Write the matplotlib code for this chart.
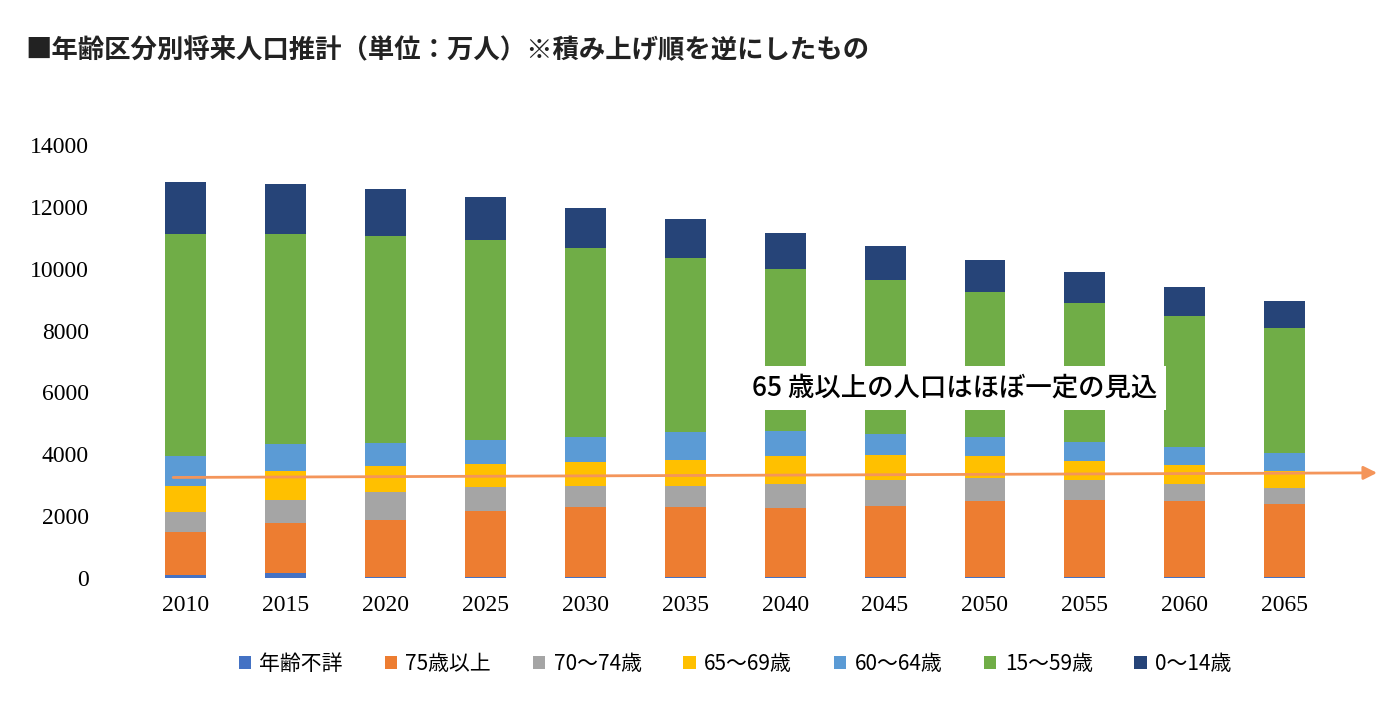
import matplotlib.pyplot as plt
import numpy as np

plt.rcParams['font.family'] = ['Noto Sans CJK JP', 'DejaVu Sans']

years = ['2010', '2015', '2020', '2025', '2030', '2035', '2040', '2045', '2050', '2055', '2060', '2065']
# cumulative tops (bottom -> top)
top_unknown = [80, 150, 40, 40, 40, 40, 40, 40, 40, 40, 40, 40]
top_75 = [1490, 1780, 1875, 2165, 2295, 2295, 2265, 2330, 2490, 2520, 2490, 2395]
top_70 = [2135, 2520, 2780, 2940, 2975, 2975, 3040, 3170, 3235, 3170, 3040, 2910]
top_65 = [2975, 3460, 3620, 3685, 3750, 3815, 3945, 3975, 3945, 3785, 3655, 3460]
top_60 = [3945, 4330, 4365, 4460, 4560, 4720, 4755, 4655, 4560, 4395, 4235, 4040]
top_15 = [11120, 11120, 11055, 10930, 10670, 10345, 9990, 9635, 9245, 8890, 8470, 8085]
top_0 = [12805, 12740, 12575, 12320, 11965, 11605, 11155, 10735, 10280, 9895, 9410, 8955]

labels = ['年齢不詳', '75歳以上', '70～74歳', '65～69歳', '60～64歳', '15～59歳', '0～14歳']
colors = ['#4472C4', '#ED7D31', '#A5A5A5', '#FFC000', '#5B9BD5', '#70AD47', '#264478']
tops = [top_unknown, top_75, top_70, top_65, top_60, top_15, top_0]

fig = plt.figure(figsize=(13.87, 7.24), dpi=100)
fig.patch.set_facecolor('white')
ax = fig.add_axes([0.094, 0.2017, 0.872, 0.598])

x = np.arange(len(years))
prev = np.zeros(len(years))
for lab, col, t in zip(labels, colors, tops):
    t = np.array(t, dtype=float)
    ax.bar(x, t - prev, bottom=prev, width=0.41, color=col, label=lab)
    prev = t

ax.set_ylim(0, 14000)
ax.set_xlim(-0.55, len(years) - 0.45)
ax.set_yticks(range(0, 14001, 2000))
ax.set_xticks(x)
ax.set_xticklabels(years)
for lbl in ax.get_xticklabels() + ax.get_yticklabels():
    lbl.set_fontfamily('Liberation Serif')
    lbl.set_fontsize(17)
ax.tick_params(length=0, pad=12)
ax.tick_params(axis='y', pad=30)
for s in ax.spines.values():
    s.set_visible(False)

# trend arrow
ax.annotate('', xy=(11.95, 3400), xytext=(-0.15, 3250), annotation_clip=False,
            arrowprops=dict(arrowstyle='-|>', color='#F4955A', lw=2, mutation_scale=20))
ax.text(7.7, 6150, '65 歳以上の人口はほぼ一定の見込', fontsize=19, ha='center', va='center',
        fontweight='medium', bbox=dict(facecolor='white', edgecolor='none', pad=6))

ax.legend(loc='upper center', bbox_to_anchor=(0.5, -0.13), ncol=7, frameon=False,
          fontsize=15, handlelength=0.6, handleheight=0.6, columnspacing=2.0, handletextpad=0.4)

fig.text(0.018, 0.92, '■年齢区分別将来人口推計（単位：万人）※積み上げ順を逆にしたもの',
         fontsize=19, fontweight='bold', color='#222222')

fig.savefig('out.png', dpi=100)
